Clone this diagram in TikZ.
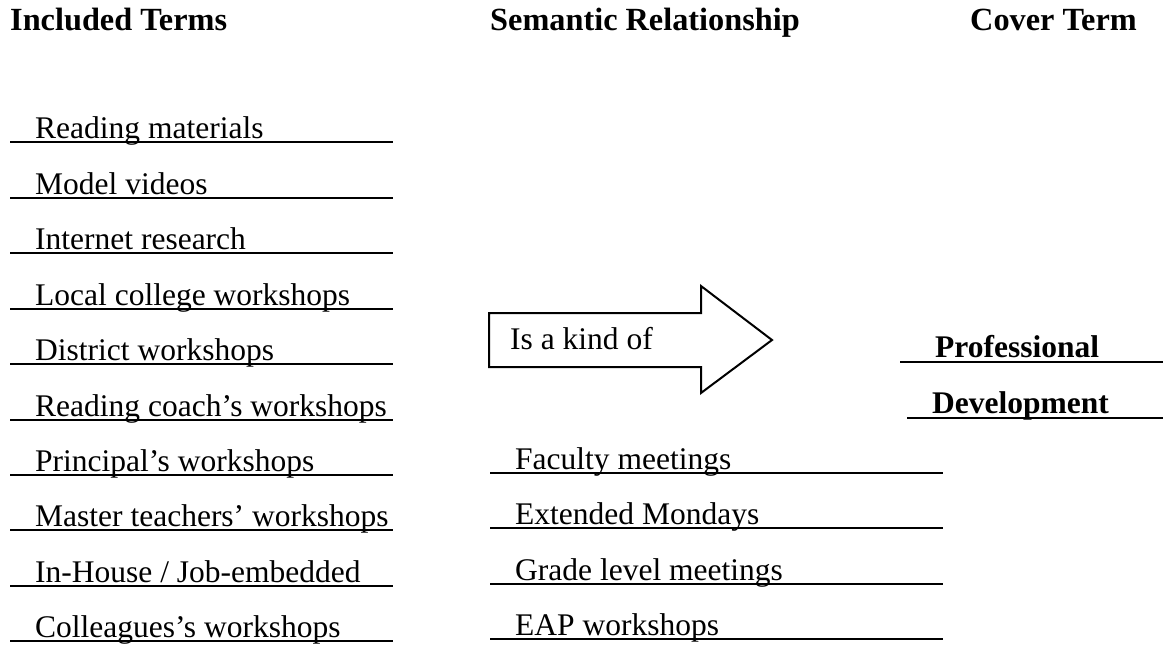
\documentclass[tikz,border=0pt]{standalone}
\usepackage{fontspec}
\setmainfont{Liberation Serif}
\begin{document}
\begin{tikzpicture}[x=1pt,y=-1pt,
  term/.style={anchor=base west,inner sep=0pt,font=\fontsize{31.5}{38}\selectfont},
  head/.style={term,font=\fontsize{32.3}{38}\selectfont\bfseries},
  cover/.style={term,font=\fontsize{31.5}{38}\selectfont\bfseries},
  rule/.style={line width=1.9pt},
  arrowshape/.style={line width=2pt,line join=miter}]
\useasboundingbox (0,0) rectangle (1168,646);

% column headings
\node[head] (h1) at (10,30) {Included Terms};
\node[head] (h2) at (490,30) {Semantic Relationship};
\node[head] (h3) at (970,30) {Cover Term};

% included terms, each on its own ruled line
\foreach \ly/\t [count=\i] in {142/{Reading materials},198/{Model videos},
    253/{Internet research},309/{Local college workshops},
    364/{District workshops},420/{Reading coach’s workshops},
    475/{Principal’s workshops},530/{Master teachers’ workshops},
    586/{In-House / Job-embedded},641/{Colleagues’s workshops}}{
  \node[term] (l\i) at (35,\ly-4) {\t};
  \draw[rule] (10,\ly) -- (393,\ly);
}

% further terms in the middle column
\foreach \ly/\t [count=\i] in {473/{Faculty meetings},528/{Extended Mondays},
    584/{Grade level meetings},639/{EAP workshops}}{
  \node[term] (m\i) at (515,\ly-4) {\t};
  \draw[rule] (490,\ly) -- (943,\ly);
}

% relationship arrow
\draw[arrowshape] (489,313) -- (701,313) -- (701,286) -- (772,340)
  -- (701,393) -- (701,367) -- (489,367) -- cycle;
\node[term] (rel) at (510,349) {Is a kind of};

% cover term
\node[cover] (c1) at (935,357) {Professional};
\draw[rule] (900,362) -- (1163,362);
\node[cover] (c2) at (932,413) {Development};
\draw[rule] (907,418) -- (1163,418);
\end{tikzpicture}
\end{document}
